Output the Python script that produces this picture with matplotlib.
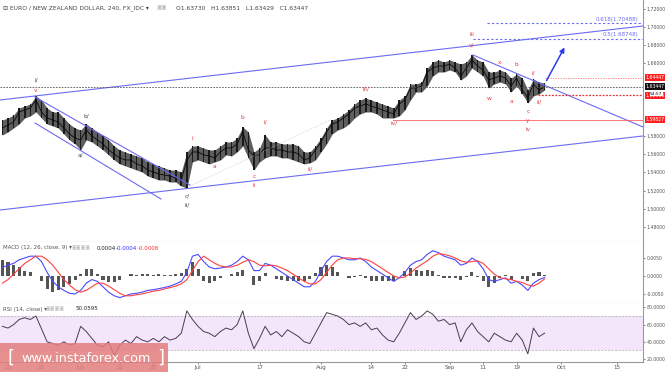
import numpy as np
import matplotlib.pyplot as plt
from matplotlib.patches import Rectangle
import matplotlib.transforms as mtrans

# EUR/NZD, one value per trading day
start = '2018-05-14'
high = [1.5978, 1.6000, 1.6033, 1.6110, 1.6132, 1.6154, 1.6242, 1.6198, 1.6110, 1.6066,
        1.6066, 1.6000, 1.5934, 1.5890, 1.5868, 1.5934, 1.5890, 1.5846, 1.5802, 1.5758,
        1.5692, 1.5648, 1.5626, 1.5604, 1.5582, 1.5560, 1.5516, 1.5494, 1.5472, 1.5450,
        1.5427, 1.5427, 1.5405, 1.5626, 1.5692, 1.5692, 1.5670, 1.5648, 1.5648, 1.5692,
        1.5736, 1.5736, 1.5780, 1.5901, 1.5846, 1.5626, 1.5670, 1.5813, 1.5736, 1.5736,
        1.5714, 1.5714, 1.5714, 1.5692, 1.5626, 1.5626, 1.5692, 1.5780, 1.5890, 1.5978,
        1.6000, 1.6044, 1.6088, 1.6154, 1.6198, 1.6220, 1.6198, 1.6176, 1.6154, 1.6132,
        1.6110, 1.6198, 1.6242, 1.6374, 1.6374, 1.6396, 1.6550, 1.6616, 1.6639, 1.6616,
        1.6639, 1.6616, 1.6594, 1.6616, 1.6694, 1.6639, 1.6616, 1.6506, 1.6506, 1.6528,
        1.6506, 1.6440, 1.6484, 1.6440, 1.6308, 1.6429, 1.6396, 1.6385]
low = [1.5813, 1.5846, 1.5890, 1.5934, 1.6000, 1.6022, 1.6066, 1.6000, 1.5934, 1.5912,
       1.5890, 1.5824, 1.5758, 1.5714, 1.5648, 1.5758, 1.5736, 1.5692, 1.5648, 1.5593,
       1.5538, 1.5494, 1.5472, 1.5450, 1.5427, 1.5405, 1.5361, 1.5339, 1.5317, 1.5317,
       1.5295, 1.5295, 1.5251, 1.5229, 1.5516, 1.5538, 1.5516, 1.5494, 1.5516, 1.5538,
       1.5593, 1.5582, 1.5626, 1.5692, 1.5560, 1.5427, 1.5516, 1.5560, 1.5582, 1.5582,
       1.5560, 1.5560, 1.5538, 1.5516, 1.5494, 1.5505, 1.5538, 1.5626, 1.5714, 1.5824,
       1.5868, 1.5890, 1.5934, 1.6000, 1.6044, 1.6066, 1.6066, 1.6044, 1.6000, 1.6000,
       1.6000, 1.6022, 1.6088, 1.6198, 1.6286, 1.6286, 1.6352, 1.6462, 1.6506, 1.6506,
       1.6528, 1.6506, 1.6418, 1.6462, 1.6550, 1.6506, 1.6462, 1.6330, 1.6374, 1.6396,
       1.6374, 1.6286, 1.6352, 1.6264, 1.6165, 1.6242, 1.6264, 1.6308]
close = [1.5890, 1.5923, 1.5956, 1.6066, 1.6088, 1.6110, 1.6198, 1.6066, 1.6000, 1.5978,
         1.5956, 1.5890, 1.5824, 1.5780, 1.5758, 1.5868, 1.5802, 1.5758, 1.5714, 1.5648,
         1.5604, 1.5560, 1.5538, 1.5538, 1.5494, 1.5472, 1.5427, 1.5405, 1.5383, 1.5372,
         1.5361, 1.5339, 1.5317, 1.5538, 1.5626, 1.5626, 1.5593, 1.5582, 1.5560, 1.5626,
         1.5670, 1.5670, 1.5714, 1.5846, 1.5648, 1.5582, 1.5604, 1.5670, 1.5670, 1.5648,
         1.5648, 1.5626, 1.5626, 1.5604, 1.5538, 1.5560, 1.5648, 1.5736, 1.5846, 1.5934,
         1.5956, 1.6000, 1.6044, 1.6110, 1.6132, 1.6154, 1.6132, 1.6110, 1.6088, 1.6066,
         1.6044, 1.6154, 1.6198, 1.6330, 1.6330, 1.6352, 1.6506, 1.6550, 1.6572, 1.6572,
         1.6594, 1.6550, 1.6462, 1.6550, 1.6639, 1.6572, 1.6528, 1.6418, 1.6440, 1.6462,
         1.6440, 1.6352, 1.6440, 1.6308, 1.6220, 1.6374, 1.6308, 1.63447]

# MACD (12,26,9) and signal, in units of 0.001
macd = [2.4, 3.0, 3.5, 4.5, 5.0, 5.5, 5.5, 4.0, 1.0, -1.5,
        -3.0, -4.0, -4.8, -5.0, -4.0, -2.0, -1.0, -1.5, -3.0, -4.5,
        -5.5, -6.0, -5.5, -5.0, -4.8, -4.5, -4.0, -3.8, -3.5, -3.2,
        -2.8, -2.2, -1.5, 1.0, 5.5, 6.0, 4.0, 2.5, 2.0, 2.2,
        2.5, 3.0, 4.0, 5.5, 4.5, 1.5, 1.5, 3.5, 3.0, 2.0,
        1.0, 0.0, -1.0, -2.0, -3.0, -3.0, -1.5, 1.5, 4.0, 5.5,
        5.5, 5.0, 4.5, 4.5, 5.0, 4.0, 2.5, 1.5, 0.5, -0.5,
        -1.5, -0.5, 1.0, 3.0, 4.0, 4.5, 6.0, 7.0, 6.5, 5.5,
        5.0, 4.5, 3.0, 3.5, 5.0, 4.0, 2.0, -1.0, -1.5, -1.0,
        -0.5, -2.0, -1.5, -2.5, -4.0, -2.0, -1.0, -0.4]
signal = [-2.0, -1.0, 0.5, 2.0, 3.5, 4.5, 5.5, 5.5, 4.5, 3.0,
          1.0, -1.0, -2.5, -3.8, -4.5, -4.0, -3.0, -2.0, -2.0, -2.8,
          -3.8, -4.8, -5.5, -5.5, -5.2, -5.0, -4.6, -4.2, -4.0, -3.6,
          -3.2, -2.8, -2.2, -1.0, 1.5, 4.0, 5.5, 4.5, 3.5, 2.8,
          2.5, 2.5, 3.0, 3.8, 4.5, 4.0, 3.0, 2.8, 3.0, 2.8,
          2.2, 1.5, 0.5, -0.5, -1.5, -2.2, -2.2, -1.0, 1.0, 3.0,
          4.5, 5.0, 5.0, 4.8, 4.8, 4.6, 4.0, 3.0, 2.0, 1.0,
          0.0, -0.5, -0.3, 0.8, 2.2, 3.2, 4.2, 5.5, 6.2, 6.0,
          5.6, 5.0, 4.2, 3.8, 4.0, 4.2, 3.5, 2.0, 0.5, -0.5,
          -0.8, -1.0, -1.5, -1.8, -2.5, -2.8, -2.0, -0.8]

rsi = [58, 56, 60, 66, 68, 66, 70, 55, 40, 38,
       36, 40, 36, 38, 58, 52, 44, 36, 34, 40,
       24, 36, 42, 38, 46, 42, 40, 44, 40, 46,
       42, 44, 50, 76, 66, 58, 52, 50, 46, 52,
       56, 54, 60, 76, 50, 32, 44, 58, 48, 52,
       46, 54, 50, 46, 40, 38, 50, 62, 74, 72,
       70, 66, 60, 62, 58, 62, 54, 56, 48, 42,
       40, 50, 62, 74, 66, 70, 76, 72, 64, 66,
       60, 62, 40, 54, 62, 52, 46, 40, 50, 46,
       42, 40, 50, 42, 26, 56, 46, 50.06]

# drawn levels
last_price = 1.63447
red_levels = [1.64447, 1.62506, 1.59827]
fib_levels = [1.70488, 1.68748]
fib_names = ['0.618', '0.5']
price_ticks = [1.48, 1.50, 1.52, 1.54, 1.56, 1.58, 1.66, 1.68, 1.70, 1.72]

# trend lines: (trading day, price) pairs
trend_lines = [
    ((-1.43, 1.6198), (113.6, 1.7013)),   # upper channel
    ((-1.43, 1.4987), (113.6, 1.5802)),   # lower channel
    ((4.83, 1.6231), (32.56, 1.5262)),    # falling channel top
    ((4.83, 1.5945), (27.37, 1.5108)),    # falling channel bottom
    ((83.18, 1.6694), (113.6, 1.5901)),   # line from the top
]

dark = '#444444'
red = '#e8383d'
# wave labels: bar index, anchor, offset px, text, colour
waves = [
    (6, 'h', 16, 'i/', dark), (6, 'h', 6, 'v', red),
    (15, 'h', 8, 'b/', dark), (14, 'l', 5, 'a/', dark),
    (33, 'l', 8, 'c/', dark), (33, 'l', 17, 'ii/', dark),
    (34, 'h', 7, 'i', red), (38, 'l', 5, 'a', red),
    (43, 'h', 9, 'b', red), (45, 'l', 6, 'c', red), (45, 'l', 15, 'ii', red),
    (47, 'h', 13, 'i/', red), (55, 'l', 6, 'ii/', red),
    (65, 'h', 9, 'iii/', red), (70, 'l', 5, 'iv/', red),
    (84, 'h', 20, 'iii', red), (84, 'h', 10, 'v/', red),
    (87, 'l', 10, 'w', red), (89, 'h', 8, 'x', red),
    (91, 'l', 9, 'a', red), (92, 'h', 10, 'b', red),
    (94, 'l', 8, 'c', red), (94, 'l', 17, 'y', red), (94, 'l', 26, 'iv', red),
    (95, 'h', 6, 'i/', red), (96, 'l', 8, 'ii/', red),
]

tick_days = ['2018-05-15', '2018-05-23', '2018-06-01', '2018-06-12', '2018-06-20',
             '2018-07-02', '2018-07-17', '2018-08-01', '2018-08-14', '2018-08-22',
             '2018-09-03', '2018-09-11', '2018-09-19', '2018-10-01', '2018-10-15']
tick_names = ['15', '23', 'Jun', '12', '20', 'Jul', '17', 'Aug', '14', '22',
              'Sep', '11', '19', 'Oct', '15']

n = len(close)
days = np.busday_offset(start, np.arange(n), roll='forward')
x = np.busday_count('2018-05-15', days).astype(float)
high = np.array(high); low = np.array(low); close = np.array(close)
macd = np.array(macd) * 1e-3
signal = np.array(signal) * 1e-3
hist = macd - signal
tick_x = np.busday_count('2018-05-15', np.array(tick_days, dtype='datetime64[D]'))

xlim = (-1.43, 113.6)
gray = '#9a9a9a'
tcol = '#555555'
blue = '#6b6bf5'
fs_tick = 3.3

fig = plt.figure(figsize=(6.65, 3.72), dpi=100)
ax = fig.add_axes([0, 0.3495, 0.9669, 0.6505])
axm = fig.add_axes([0, 0.1855, 0.9669, 0.164])
axr = fig.add_axes([0, 0.0269, 0.9669, 0.1586])

for a in (ax, axm, axr):
    a.set_xlim(*xlim)
    a.yaxis.tick_right()
    for s in ('top', 'left'):
        a.spines[s].set_visible(False)
    a.spines['right'].set_color(gray)
    a.spines['bottom'].set_color(gray)
    a.spines['right'].set_linewidth(0.8)
    a.spines['bottom'].set_linewidth(0.8)
    a.tick_params(axis='y', labelsize=fs_tick, colors=tcol, length=1.5, width=0.5, pad=1)
    a.tick_params(axis='x', length=0)
    a.set_xticks([])

# price panel
ax.set_ylim(1.4635, 1.7299)
ax.fill_between(x, low, high, color='#5e5e5e', lw=0)
ax.bar(x, high - low, bottom=low, width=0.3, color='#1a1a1a', linewidth=0)
ax.plot(x, close, color='#0a0a0a', lw=0.6)
ax.set_yticks(price_ticks)
ax.set_yticklabels(['%.5f' % v for v in price_ticks])

for (x0, y0), (x1, y1) in trend_lines:
    ax.plot([x0, x1], [y0, y1], color=blue, lw=0.8)
ax.plot([32.56, 57.6], [1.5251, 1.5978], color='#bbbbbb', lw=0.5, ls=':')

ax.axhline(last_price, color='#555555', lw=0.6, ls=(0, (2, 1.5)))
ax.plot([96, xlim[1]], [red_levels[0]] * 2, color='#ff7070', lw=0.6, ls=(0, (1.5, 1.5)))
ax.plot([94.8, xlim[1]], [red_levels[1]] * 2, color='#e03030', lw=0.9, ls=(0, (1.5, 1.2)))
ax.plot([68.9, xlim[1]], [red_levels[2]] * 2, color='#ff6060', lw=0.6)
fib_start = [85.7, 83.2]
for lv, nm, xs in zip(fib_levels, fib_names, fib_start):
    ax.plot([xs, xlim[1]], [lv, lv], color=blue, lw=0.8, ls=(0, (2, 2)))
    ax.text(112.8, lv + 0.0012, '%s(%.5f)' % (nm, lv), color=blue, fontsize=4.0,
            ha='right', va='bottom')

ax.annotate('', xy=(99.8, 1.6804), xytext=(96.1, 1.6385),
            arrowprops=dict(arrowstyle='-|>', color='#2a3cf0', lw=1.1,
                            mutation_scale=7))

for i, side, d, txt, col in waves:
    y = high[i] if side == 'h' else low[i]
    off = d if side == 'h' else -d
    ax.annotate(txt, (x[i], y), xytext=(0, off * 0.72), textcoords='offset points',
                ha='center', va='center', fontsize=4.2, color=col)

# price tags on the right axis
tr = mtrans.blended_transform_factory(ax.transAxes, ax.transData)
tags = [(red_levels[0], '%.5f' % red_levels[0], '#ff2020', 'white'),
        (last_price, '%.5f' % last_price, '#111111', 'white'),
        (red_levels[1], '%.5f' % red_levels[1], '#ff2020', 'white'),
        (red_levels[2], '%.5f' % red_levels[2], '#ff2020', 'white')]
for lv, txt, fc, tc in tags:
    ax.text(1.004, lv, txt, transform=tr, fontsize=fs_tick, color=tc, va='center',
            ha='left', clip_on=False,
            bbox=dict(boxstyle='square,pad=0.2', fc=fc, ec='none'))
ax.text(1.011, last_price - 0.0077, '54:57', transform=tr, fontsize=3.1,
        color='black', va='center', ha='left', clip_on=False,
        bbox=dict(boxstyle='square,pad=0.1', fc='white', ec='none'))

# MACD panel
axm.set_ylim(-0.0075, 0.00944)
axm.bar(x, hist, width=0.55, color='#555555', linewidth=0)
axm.plot(x, macd, color='#4a4aff', lw=0.8)
axm.plot(x, signal, color='#ff4040', lw=0.8)
axm.set_yticks([-0.005, 0, 0.005])
axm.set_yticklabels(['-0.0050', '0.0000', '0.0050'])

# RSI panel
axr.set_ylim(16.5, 85.2)
axr.axhspan(30, 70, color='#f3e6fb', lw=0)
axr.axhline(70, color='#aaaaaa', lw=0.5, ls=(0, (3, 2)))
axr.axhline(30, color='#aaaaaa', lw=0.5, ls=(0, (3, 2)))
axr.plot(x, rsi, color='#4a3b52', lw=0.7)
axr.set_yticks([20, 40, 60, 80])
axr.set_yticklabels(['20.0000', '40.0000', '60.0000', '80.0000'])
axr.set_xticks(tick_x)
axr.set_xticklabels(tick_names)
axr.tick_params(axis='x', labelsize=4.0, colors=tcol, length=1.5, width=0.5, pad=1)

# header texts
fs_h = 4.3
fig.text(0.004, 1 - 8 / 372, '\u229f EURO / NEW ZEALAND DOLLAR, 240, FX_IDC \u25be',
         fontsize=fs_h, color='#444444', va='center')
fig.text(0.236, 1 - 8 / 372, '\u25a3\u25a3', fontsize=4.0, color='#bbbbbb', va='center')
fig.text(0.265, 1 - 8 / 372, 'O1.63730   H1.63851   L1.63429   C1.63447',
         fontsize=fs_h, color='#444444', va='center')
ym = 1 - 248 / 372
fig.text(0.004, ym, 'MACD (12, 26, close, 9) \u25be', fontsize=4.0, color='#555555', va='center')
fig.text(0.108, ym, '\u25a3\u25a3\u25a3\u25a3', fontsize=3.6, color='#bbbbbb', va='center')
fig.text(0.146, ym, '0.0004', fontsize=4.0, color='#222222', va='center')
fig.text(0.174, ym, '-0.0004', fontsize=4.0, color='#3030ff', va='center')
fig.text(0.207, ym, '-0.0008', fontsize=4.0, color='#ff3030', va='center')
yr = 1 - 309 / 372
fig.text(0.004, yr, 'RSI (14, close) \u25be', fontsize=4.0, color='#555555', va='center')
fig.text(0.068, yr, '\u25a3\u25a3\u25a3\u25a3', fontsize=3.6, color='#bbbbbb', va='center')
fig.text(0.113, yr, '50.0595', fontsize=4.0, color='#222222', va='center')

# watermark
fig.add_artist(Rectangle((0, 0), 168 / 665, 29 / 372, transform=fig.transFigure,
                         facecolor='#e37d7d', alpha=0.85, edgecolor='none'))
fig.text(0.012, 14 / 372, '[', fontsize=13, color='white', va='center')
fig.text(0.032, 14 / 372, 'www.instaforex.com', fontsize=9.2, color='white', va='center')
fig.text(0.236, 14 / 372, ']', fontsize=13, color='white', va='center')

fig.savefig('out.png', dpi=100)
